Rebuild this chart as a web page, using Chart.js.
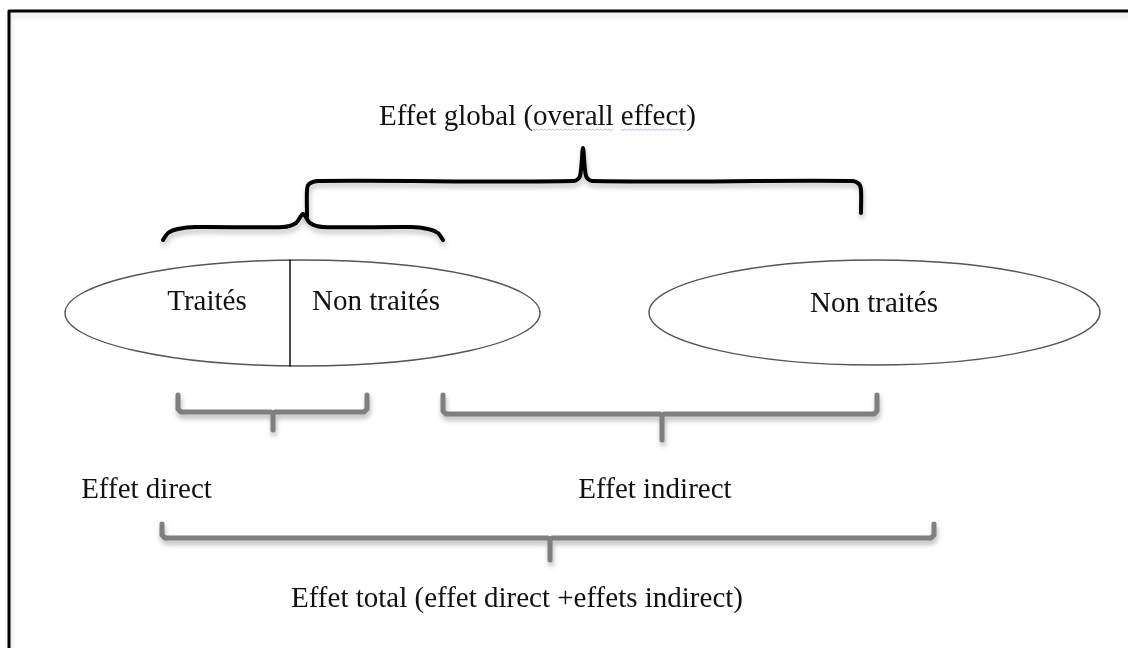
<!DOCTYPE html>
<html>
<head>
<meta charset="utf-8">
<script src="https://cdn.jsdelivr.net/npm/chart.js@4.4.1/dist/chart.umd.min.js"></script>
<style>
  html, body { margin: 0; padding: 0; background: #ffffff; }
  #c { display: block; }
</style>
</head>
<body>
<canvas id="c" width="1128" height="648"></canvas>
<script>
// ---- Diagram data (in a 1128 x 648 data space, y grows downward) ----
const frameX = [9, 9, 1128];
const frameY = [648, 11, 11];

// Black curly brace joining the two groups (overall effect)
const bigBraceX = [307, 307, 309, 318, 574, 580, 583, 586, 592, 852, 859, 861, 861];
const bigBraceY = [217, 190, 184, 181, 181, 176, 148, 176, 181, 181, 184, 190, 213];

// Black curly brace over the treated village
const smallBraceX = [163, 168, 178, 195, 283, 296, 303, 310, 323, 411, 428, 438, 443];
const smallBraceY = [240, 233, 229, 227, 227, 223, 214, 223, 227, 227, 229, 233, 240];

// Grey square brackets
const directBraceX = [178, 178, 181, 271, 273, 273, 273, 275, 364, 367, 367];
const directBraceY = [395, 409, 412, 412, 414, 430, 414, 412, 412, 409, 395];

const indirectBraceX = [443, 443, 446, 660, 662, 662, 662, 664, 874, 877, 877];
const indirectBraceY = [395, 411, 414, 414, 416, 440, 416, 414, 414, 411, 395];

const totalBraceX = [162, 162, 165, 548, 550, 550, 550, 552, 931, 934, 934];
const totalBraceY = [524, 535, 538, 538, 540, 560, 540, 538, 538, 535, 524];

// Divider between treated / untreated inside the first village
const dividerX = [290, 290];
const dividerY = [260, 366];

// Ellipses (villages): centre and radii
const ellipseCX = [302.5, 874.5];
const ellipseCY = [313, 312.5];
const ellipseRX = [237.5, 225.5];
const ellipseRY = [53, 52.5];

// Labels
const labelText = [
  "Effet global (overall effect)",
  "Traités",
  "Non traités",
  "Non traités",
  "Effet direct",
  "Effet indirect",
  "Effet total (effet direct +effets indirect)"
];
const labelX = [537.5, 207, 376, 874, 146.5, 655, 517];
const labelY = [125, 310, 310, 312, 498, 498, 607];

// ---- helpers ----
const pts = (xs, ys) => xs.map((x, i) => ({ x: x, y: ys[i] }));

const ellipsePlugin = {
  id: 'ellipses',
  beforeDatasetsDraw(chart) {
    const ctx = chart.ctx, sx = chart.scales.x, sy = chart.scales.y;
    ctx.save();
    ctx.strokeStyle = '#555555';
    ctx.lineWidth = 1.4;
    for (let i = 0; i < ellipseCX.length; i++) {
      const cx = sx.getPixelForValue(ellipseCX[i]);
      const cy = sy.getPixelForValue(ellipseCY[i]);
      const rx = Math.abs(sx.getPixelForValue(ellipseCX[i] + ellipseRX[i]) - cx);
      const ry = Math.abs(sy.getPixelForValue(ellipseCY[i] + ellipseRY[i]) - cy);
      ctx.beginPath();
      ctx.ellipse(cx, cy, rx, ry, 0, 0, Math.PI * 2);
      ctx.stroke();
    }
    ctx.restore();
  },
  afterDatasetsDraw(chart) {
    const ctx = chart.ctx, sx = chart.scales.x, sy = chart.scales.y;
    ctx.save();
    ctx.fillStyle = '#111111';
    ctx.font = '29px "Liberation Serif", "Times New Roman", serif';
    ctx.textAlign = 'center';
    ctx.textBaseline = 'alphabetic';
    for (let i = 0; i < labelText.length; i++) {
      ctx.fillText(labelText[i], sx.getPixelForValue(labelX[i]), sy.getPixelForValue(labelY[i]));
    }
    // spell-check style wavy underline below "overall effect"
    const t = labelText[0];
    const full = ctx.measureText(t).width;
    const start = sx.getPixelForValue(labelX[0]) - full / 2;
    const pre = ctx.measureText('Effet global (').width;
    const w1 = ctx.measureText('overall').width;
    const pre2 = ctx.measureText('Effet global (overall ').width;
    const w2 = ctx.measureText('effect').width;
    const by = sy.getPixelForValue(labelY[0]) + 4;
    ctx.strokeStyle = 'rgba(120,140,170,0.55)';
    ctx.lineWidth = 1;
    [[start + pre, w1], [start + pre2, w2]].forEach(([x0, w]) => {
      ctx.beginPath();
      for (let x = 0; x <= w; x += 2) {
        const yy = by + ((x / 2) % 2 === 0 ? 0 : 1.5);
        if (x === 0) ctx.moveTo(x0 + x, yy); else ctx.lineTo(x0 + x, yy);
      }
      ctx.stroke();
    });
    ctx.restore();
  },
  beforeDatasetDraw(chart, args) {
    const ds = chart.data.datasets[args.index];
    chart.ctx.save();
    if (ds.shadow) {
      chart.ctx.shadowColor = ds.shadow;
      chart.ctx.shadowOffsetX = 1;
      chart.ctx.shadowOffsetY = 4;
      chart.ctx.shadowBlur = 5;
    }
  },
  afterDatasetDraw(chart) {
    chart.ctx.restore();
  }
};

const lineDs = (label, xs, ys, color, width, tension, shadow) => ({
  label: label,
  data: pts(xs, ys),
  showLine: true,
  borderColor: color,
  borderWidth: width,
  pointRadius: 0,
  tension: tension,
  cubicInterpolationMode: 'default',
  borderCapStyle: 'round',
  borderJoinStyle: 'round',
  fill: false,
  clip: false,
  shadow: shadow
});

new Chart(document.getElementById('c'), {
  type: 'scatter',
  data: {
    datasets: [
      lineDs('frame', frameX, frameY, '#000000', 3, 0, 'rgba(0,0,0,0.15)'),
      lineDs('divider', dividerX, dividerY, '#111111', 1.5, 0, null),
      lineDs('overall', bigBraceX, bigBraceY, '#000000', 4, 0.3, 'rgba(0,0,0,0.25)'),
      lineDs('village', smallBraceX, smallBraceY, '#000000', 4, 0.3, 'rgba(0,0,0,0.25)'),
      lineDs('direct', directBraceX, directBraceY, '#7f7f7f', 5, 0, 'rgba(0,0,0,0.28)'),
      lineDs('indirect', indirectBraceX, indirectBraceY, '#7f7f7f', 5, 0, 'rgba(0,0,0,0.28)'),
      lineDs('total', totalBraceX, totalBraceY, '#7f7f7f', 5, 0, 'rgba(0,0,0,0.28)')
    ]
  },
  options: {
    responsive: false,
    animation: false,
    devicePixelRatio: 1,
    layout: { padding: 0 },
    plugins: { legend: { display: false }, tooltip: { enabled: false }, title: { display: false } },
    scales: {
      x: { type: 'linear', min: 0, max: 1128, display: false },
      y: { type: 'linear', min: 0, max: 648, reverse: true, display: false }
    }
  },
  plugins: [ellipsePlugin]
});
</script>
</body>
</html>
